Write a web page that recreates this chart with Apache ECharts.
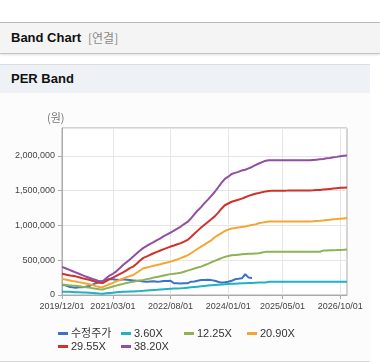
<!DOCTYPE html>
<html><head><meta charset="utf-8">
<script src="https://cdn.jsdelivr.net/npm/echarts@6/dist/echarts.min.js"></script>
<style>
html,body{margin:0;padding:0;background:#fff;width:380px;height:364px;overflow:hidden;font-family:"Liberation Sans","Noto Sans CJK KR",sans-serif;}
#hdr{position:absolute;left:0;top:22px;width:380px;height:30px;background:#f4f4f4;border-top:1px solid #b8b8b8;border-bottom:1px solid #c4c4c4;box-shadow:0 1px 2px rgba(0,0,0,0.12);}
#hdr .t{position:absolute;left:11px;top:7px;font-weight:bold;font-size:13px;color:#111;}
#hdr .s{position:absolute;left:88px;top:8px;font-size:12px;color:#8a8a8a;font-family:"Noto Sans CJK KR",sans-serif;line-height:14px;}
#sub{position:absolute;left:0;top:64px;width:370px;height:28px;background:#eef2f7;border-top:1px solid #dcdcdc;}
#sub .t{position:absolute;left:11px;top:6px;font-weight:bold;font-size:13px;color:#111;}
#wrap{position:absolute;left:0;top:93px;width:370px;height:268px;background:#fcfcfc;border-bottom:1px solid #d8d8d8;}
#chart{width:370px;height:268px;}
</style>
</head><body>
<div id="hdr"><span class="t">Band Chart</span><span class="s">[연결]</span></div>
<div id="sub"><span class="t">PER Band</span></div>
<div id="wrap"><div id="chart"></div></div>
<script>
// Monthly categories 2019/12 .. 2026/12
const categories = [
 '2019/12/01',
 '2020/01/01','2020/02/01','2020/03/01','2020/04/01','2020/05/01','2020/06/01','2020/07/01','2020/08/01','2020/09/01','2020/10/01','2020/11/01','2020/12/01',
 '2021/01/01','2021/02/01','2021/03/01','2021/04/01','2021/05/01','2021/06/01','2021/07/01','2021/08/01','2021/09/01','2021/10/01','2021/11/01','2021/12/01',
 '2022/01/01','2022/02/01','2022/03/01','2022/04/01','2022/05/01','2022/06/01','2022/07/01','2022/08/01','2022/09/01','2022/10/01','2022/11/01','2022/12/01',
 '2023/01/01','2023/02/01','2023/03/01','2023/04/01','2023/05/01','2023/06/01','2023/07/01','2023/08/01','2023/09/01','2023/10/01','2023/11/01','2023/12/01',
 '2024/01/01','2024/02/01','2024/03/01','2024/04/01','2024/05/01','2024/06/01','2024/07/01','2024/08/01','2024/09/01','2024/10/01','2024/11/01','2024/12/01',
 '2025/01/01','2025/02/01','2025/03/01','2025/04/01','2025/05/01','2025/06/01','2025/07/01','2025/08/01','2025/09/01','2025/10/01','2025/11/01','2025/12/01',
 '2026/01/01','2026/02/01','2026/03/01','2026/04/01','2026/05/01','2026/06/01','2026/07/01','2026/08/01','2026/09/01','2026/10/01','2026/11/01','2026/12/01'
];
const tickLabels = ['2019/12/01','2021/03/01','2022/08/01','2024/01/01','2025/05/01','2026/10/01'];
const seriesNames = ['수정주가','3.60X','12.25X','20.90X','29.55X','38.20X'];

// values in thousands of won
const price = [144,140,120,110,105,110,110,120,130,150,
 170,185,200,220,230,225,220,215,225,220,
 215,210,205,200,195,192,195,198,192,195,
 200,200,205,168,168,165,170,168,192,195,
 205,215,216,218,214,205,190,178,182,190,
 205,225,232,240,298,250,245,null,null,null,
 null,null,null,null,null,null,null,null,null,null,
 null,null,null,null,null,null,null,null,null,null,
 null,null,null,null,null];
const per360 = [48,47,45,43,41,39,37,35,32,28,
 24,20,18,25,30,34,38,42,45,48,
 50,52,55,57,60,64,68,72,75,79,
 83,87,90,92,94,96,100,105,110,115,
 120,125,130,135,140,144,148,152,156,158,
 160,162,165,168,170,172,174,176,178,178,
 180,190,190,190,190,190,190,190,190,190,
 190,190,190,190,190,190,190,190,190,190,
 190,190,190,190,190];
const per1225 = [152,148,140,135,132,126,118,112,106,98,
 90,82,80,95,108,122,135,148,160,172,
 182,192,200,208,216,228,238,250,260,270,
 280,290,300,307,313,320,335,350,365,380,
 395,408,428,448,470,490,510,530,548,560,
 570,575,580,585,590,592,594,598,600,610,
 620,622,622,622,622,622,622,622,622,622,
 622,622,622,622,622,622,622,638,640,642,
 644,645,647,650,655];
const per2090 = [230,222,212,202,194,185,175,165,155,142,
 128,115,112,135,155,175,195,215,235,255,
 272,288,320,352,384,395,408,420,430,442,
 455,468,480,495,512,530,550,570,600,632,
 665,696,725,755,785,830,860,890,920,940,
 955,962,970,978,985,994,1005,1015,1030,1040,
 1050,1055,1056,1056,1056,1056,1056,1056,1056,1056,
 1056,1056,1056,1056,1060,1065,1068,1072,1078,1082,
 1088,1092,1097,1101,1105];
const per2955 = [305,295,285,275,268,255,242,230,220,205,
 190,175,172,200,228,250,275,300,325,355,
 385,408,450,495,533,555,578,600,620,640,
 660,678,696,712,730,745,768,792,835,880,
 925,970,1010,1050,1090,1130,1180,1240,1290,1315,
 1340,1355,1370,1385,1405,1425,1440,1455,1465,1478,
 1489,1495,1500,1500,1500,1500,1500,1502,1502,1502,
 1502,1503,1503,1503,1505,1508,1510,1515,1520,1525,
 1530,1535,1540,1543,1546];
const per3820 = [405,385,365,345,325,305,285,265,248,230,
 215,200,195,240,280,305,340,385,430,470,
 510,552,595,640,677,705,735,760,790,815,
 845,870,898,925,955,984,1020,1050,1100,1160,
 1215,1263,1320,1370,1425,1480,1545,1610,1670,1700,
 1740,1755,1770,1790,1800,1820,1840,1865,1890,1910,
 1930,1935,1935,1935,1935,1935,1935,1935,1935,1935,
 1935,1935,1935,1935,1940,1945,1950,1955,1965,1970,
 1980,1985,1995,2000,2005];

const colors = ['#3a73c6','#1fb1c6','#8fb254','#f5a632','#d1302b','#904f9f'];
const allData = [price, per360, per1225, per2090, per2955, per3820];
const toWon = arr => arr.map(v => v == null ? null : v * 1000);

const chart = echarts.init(document.getElementById('chart'), null, {renderer:'canvas'});
const isTick = (i, v) => tickLabels.indexOf(categories[i]) >= 0;
const baseFont = '"Liberation Sans","Noto Sans CJK KR",sans-serif';
chart.setOption({
  animation:false,
  textStyle:{fontFamily:baseFont},
  grid:{left:62,right:23,top:35,bottom:66,show:true,borderColor:'#aaaaaa',borderWidth:1,backgroundColor:'#ffffff'},
  graphic:[{type:'text',left:47,top:19,style:{text:'(원)',fill:'#777',font:'11px "Noto Sans CJK KR",sans-serif'}}],
  legend:{
    left:53, top:229, width:265, itemGap:0, itemWidth:10, itemHeight:3, icon:'rect',
    data:seriesNames,
    textStyle:{fontSize:11,color:'#333',width:50,lineHeight:13,fontFamily:baseFont,padding:[0,0,0,-2]}
  },
  xAxis:{
    type:'category', data:categories, boundaryGap:false,
    axisLine:{lineStyle:{color:'#aaaaaa'}},
    axisTick:{show:true,interval:isTick,length:4,lineStyle:{color:'#aaaaaa'}},
    axisLabel:{interval:isTick,color:'#444',fontSize:9,margin:7,fontFamily:baseFont},
    splitLine:{show:true,interval:isTick,lineStyle:{color:'#e6e6e6'}}
  },
  yAxis:{
    type:'value', min:0, max:2400000, interval:500000,
    axisLine:{show:true,lineStyle:{color:'#aaaaaa'}},
    axisTick:{show:true,length:4,lineStyle:{color:'#aaaaaa'}},
    axisLabel:{color:'#444',fontSize:9,margin:7,showMaxLabel:false,fontFamily:baseFont,
      formatter:v => (v % 500000 === 0) ? v.toLocaleString('en-US') : ''},
    splitLine:{lineStyle:{color:'#e6e6e6'}}
  },
  series: seriesNames.map((n, i) => ({
    name:n, type:'line', data:toWon(allData[i]), showSymbol:false, symbol:'none',
    lineStyle:{width:2,color:colors[i]}, itemStyle:{color:colors[i]}, connectNulls:false
  }))
});
</script>
</body></html>
